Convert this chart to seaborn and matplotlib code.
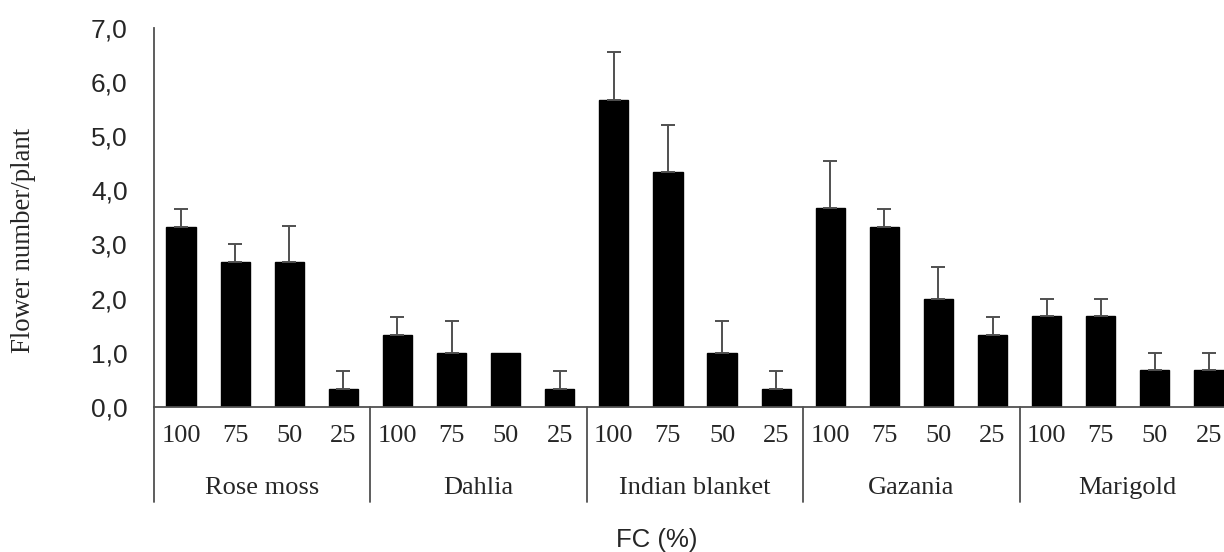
import numpy as np
import pandas as pd
import seaborn as sns
import matplotlib.pyplot as plt
import matplotlib.transforms as mtransforms

# Datos
especies = ['Rose moss', 'Dahlia', 'Indian blanket', 'Gazania', 'Marigold']
fc = ['100', '75', '50', '25']
flores = [3.33, 2.67, 2.67, 0.33,
          1.33, 1.00, 1.00, 0.33,
          5.67, 4.33, 1.00, 0.33,
          3.67, 3.33, 2.00, 1.33,
          1.67, 1.67, 0.67, 0.67]
error = [0.33, 0.33, 0.67, 0.33,
         0.33, 0.58, 0.00, 0.33,
         0.88, 0.88, 0.58, 0.33,
         0.88, 0.33, 0.58, 0.33,
         0.33, 0.33, 0.33, 0.33]
y_ticks = [0, 1, 2, 3, 4, 5, 6, 7]

df = pd.DataFrame({
    'Especie': np.repeat(especies, len(fc)),
    'FC': fc * len(especies),
    'Flores': flores,
    'Error': error,
})
df['Clave'] = df['Especie'] + ' ' + df['FC']

sns.set_style('white')
plt.rcParams['font.family'] = ['Liberation Sans', 'DejaVu Sans']
serif = ['Liberation Serif', 'DejaVu Serif']
gris = '#505050'

fig = plt.figure(figsize=(12.24, 5.52), dpi=100)
ax = fig.add_axes([0.1258, 0.2632, 0.8840, 0.6861])

sns.barplot(data=df, x='Clave', y='Flores', order=list(df['Clave']), color='black',
            saturation=1, width=0.54, errorbar=None, edgecolor='black', ax=ax)

# Barras de error (solo hacia arriba)
pos = np.arange(len(df))
con_error = df['Error'] > 0
ax.errorbar(pos[con_error], df.loc[con_error, 'Flores'],
            yerr=[np.zeros(con_error.sum()), df.loc[con_error, 'Error']],
            fmt='none', ecolor=gris, elinewidth=1.4, capsize=4.7, capthick=1.4, zorder=3)

ax.set_xlim(-0.5, len(df) - 0.5)
ax.set_ylim(0, 7)
ax.set_yticks(y_ticks)
ax.set_yticklabels([f'{v:.1f}'.replace('.', ',') for v in y_ticks], fontsize=19)
ax.set_xticks(pos)
ax.set_xticklabels(df['FC'], fontsize=19, family=serif)
ax.tick_params(axis='both', length=0)
ax.tick_params(axis='y', pad=19)
ax.tick_params(axis='x', pad=13.5)
ax.set_xlabel('')
ax.set_ylabel('')

sns.despine(ax=ax, top=True, right=True)
for lado in ['left', 'bottom']:
    ax.spines[lado].set_color(gris)
    ax.spines[lado].set_linewidth(1.3)

# Etiquetas de grupo y separadores
trans = mtransforms.blended_transform_factory(ax.transData, ax.transAxes)
for i, esp in enumerate(especies):
    centro = i * len(fc) + (len(fc) - 1) / 2
    ax.text(centro, -0.2313, esp, transform=trans, ha='center', va='baseline',
            fontsize=19, family=serif)
for i in range(len(especies) + 1):
    xs = i * len(fc) - 0.5
    ax.plot([xs, xs], [0, -0.2509], transform=trans, color=gris, lw=1.3, clip_on=False)

fig.text(24 / 1224, 1 - 240 / 552, 'Flower number/plant', rotation=90, ha='center',
         va='center', fontsize=19.4, family=serif)
fig.text(657 / 1224, 1 - 540 / 552, 'FC (%)', ha='center', va='center', fontsize=18.5)

fig.savefig('out.png', dpi=100)
